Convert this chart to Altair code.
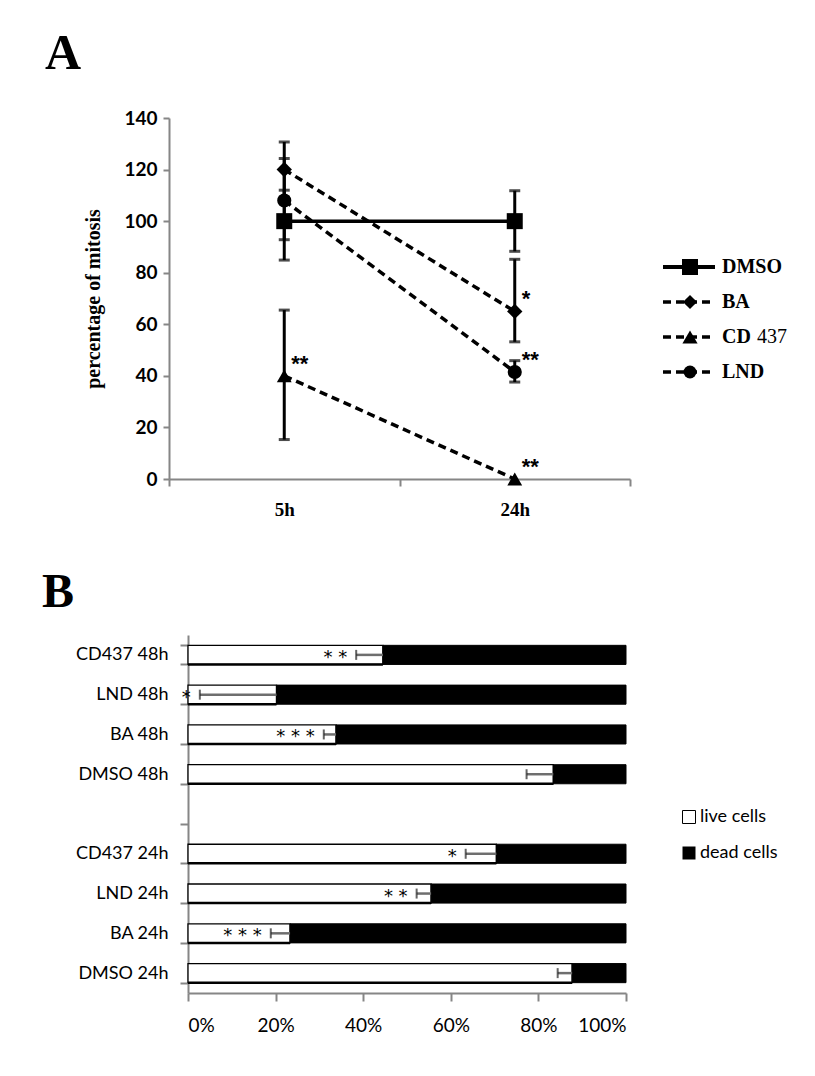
import altair as alt
import pandas as pd

# ---------------- Panel A data ----------------
times = ["5h", "24h"]
series = ["DMSO", "BA", "CD 437", "LND"]
dmso_val = [100, 100]
ba_val = [120, 65]
cd_val = [40, 0]
lnd_val = [108, 41.5]
dmso_lo = [84.9, 88.3]
dmso_hi = [112.0, 111.8]
ba_lo = [109.3, 53.2]
ba_hi = [130.7, 85.2]
cd_lo = [15.3, None]
cd_hi = [65.5, None]
lnd_lo = [92.8, 37.6]
lnd_hi = [124.3, 45.9]
stars_a_series = ["CD 437", "BA", "LND", "CD 437"]
stars_a_time = ["5h", "24h", "24h", "24h"]
stars_a_text = ["**", "*", "**", "**"]

# ---------------- Panel B data ----------------
cats_b = ["CD437 48h", "LND 48h", "BA 48h", "DMSO 48h", " ",
          "CD437 24h", "LND 24h", "BA 24h", "DMSO 24h"]
bar_cats = ["CD437 48h", "LND 48h", "BA 48h", "DMSO 48h",
            "CD437 24h", "LND 24h", "BA 24h", "DMSO 24h"]
live_pct = [44.5, 20.2, 33.8, 83.4, 70.4, 55.5, 23.3, 87.7]
live_err = [6.1, 17.5, 2.8, 6.1, 7.0, 3.3, 4.4, 3.3]
stars_b = ["* *", "*", "* * *", "", "*", "* *", "* * *", ""]

AX = "#868686"

vals = {"DMSO": dmso_val, "BA": ba_val, "CD 437": cd_val, "LND": lnd_val}
los = {"DMSO": dmso_lo, "BA": ba_lo, "CD 437": cd_lo, "LND": lnd_lo}
his = {"DMSO": dmso_hi, "BA": ba_hi, "CD 437": cd_hi, "LND": lnd_hi}
rows = []
for s in series:
    for i, t in enumerate(times):
        rows.append({"series": s, "time": t, "value": vals[s][i],
                     "lo": los[s][i], "hi": his[s][i]})
dfa = pd.DataFrame(rows)
dfe = dfa.dropna(subset=["lo"])
caps = pd.concat([dfe[["series", "time", "lo"]].rename(columns={"lo": "cap"}),
                  dfe[["series", "time", "hi"]].rename(columns={"hi": "cap"})])
dfs = pd.DataFrame({"series": stars_a_series, "time": stars_a_time, "text": stars_a_text})
dfs = dfs.merge(dfa[["series", "time", "value"]], on=["series", "time"])

xA = alt.X("time:N", sort=times, bandPosition=0.5,
           scale=alt.Scale(type="band", domain=times, paddingInner=0, paddingOuter=0),
           axis=alt.Axis(title=None, tickBand="extent", labelAngle=0, tickSize=7,
                         labelPadding=14, labelFont="Liberation Serif", labelFontWeight="bold",
                         labelFontSize=19, labelColor="black", domainColor=AX, tickColor=AX,
                         domainWidth=2, tickWidth=2))
yA = alt.Y("value:Q", scale=alt.Scale(domain=[0, 140], nice=False),
           axis=alt.Axis(title="percentage of mitosis", values=list(range(0, 141, 20)),
                         grid=False, tickSize=6, labelPadding=6, labelFont="Lato",
                         labelFontWeight="bold", labelFontSize=19, labelColor="black",
                         titleFont="Liberation Serif", titleFontWeight="bold",
                         titleFontSize=20, titleColor="black", titlePadding=20,
                         domainColor=AX, tickColor=AX, domainWidth=2, tickWidth=2))

dash_scale = alt.Scale(domain=series, range=[[1, 0], [8, 5], [8, 5], [8, 5]])
shape_scale = alt.Scale(domain=series, range=["square", "diamond", "triangle-up", "circle"])
size_scale = alt.Scale(domain=series, range=[256, 200, 230, 169])

lines = alt.Chart(dfa).mark_line(color="black", strokeWidth=3.5).encode(
    x=xA, y=yA,
    detail="series:N",
    strokeDash=alt.StrokeDash("series:N", scale=dash_scale, legend=None),
)
ebars = alt.Chart(dfe).mark_rule(color="black", strokeWidth=3).encode(
    x=alt.X("time:N", sort=times, bandPosition=0.5), y="lo:Q", y2="hi:Q")
ecaps = alt.Chart(caps).mark_tick(color="black", size=11, thickness=3).encode(
    x=alt.X("time:N", sort=times, bandPosition=0.5), y="cap:Q")
points = alt.Chart(dfa).mark_point(filled=True, color="black", opacity=1).encode(
    x=alt.X("time:N", sort=times, bandPosition=0.5), y="value:Q",
    shape=alt.Shape("series:N", scale=shape_scale, legend=None),
    size=alt.Size("series:N", scale=size_scale, legend=None),
)
starsA = alt.Chart(dfs).mark_text(align="left", baseline="middle", dx=7, dy=-12,
                                  font="Liberation Sans", fontWeight="bold",
                                  fontSize=22, color="black").encode(
    x=alt.X("time:N", sort=times, bandPosition=0.5), y="value:Q", text="text:N")

dummy = pd.DataFrame({"a": [0]})
leg_layers = []
leg_shapes = ["square", "diamond", "triangle-up", "circle"]
leg_sizes = [256, 200, 230, 169]
for i, s in enumerate(series):
    yy = 149 + 35 * i
    dash = [1, 0] if i == 0 else [8, 5]
    leg_layers.append(alt.Chart(dummy).mark_rule(color="black", strokeWidth=3.5 if i else 4,
                                                 strokeDash=dash).encode(
        x=alt.value(494), x2=alt.value(546), y=alt.value(yy)))
    leg_layers.append(alt.Chart(dummy).mark_point(filled=True, color="black", opacity=1,
                                                  shape=leg_shapes[i], size=leg_sizes[i]).encode(
        x=alt.value(521), y=alt.value(yy)))
    if s == "CD 437":
        leg_layers.append(alt.Chart(dummy).mark_text(text="CD", align="left", baseline="middle",
                          font="Liberation Serif", fontWeight="bold", fontSize=20,
                          color="black").encode(x=alt.value(553), y=alt.value(yy)))
        leg_layers.append(alt.Chart(dummy).mark_text(text="437", align="left", baseline="middle",
                          font="Liberation Serif", fontWeight="normal", fontSize=20,
                          color="black").encode(x=alt.value(588), y=alt.value(yy)))
    else:
        leg_layers.append(alt.Chart(dummy).mark_text(text=s, align="left", baseline="middle",
                          font="Liberation Serif", fontWeight="bold", fontSize=20,
                          color="black").encode(x=alt.value(553), y=alt.value(yy)))

labelA = alt.Chart(dummy).mark_text(text="A", align="left", baseline="alphabetic",
                                    font="Liberation Serif", fontWeight="bold", fontSize=50,
                                    color="black").encode(x=alt.value(-124), y=alt.value(-49))

chartA = alt.layer(lines, ebars, ecaps, points, starsA, labelA, *leg_layers).properties(
    width=461, height=361)

# ---------------- Panel B ----------------
# plot origin shared with panel A; panel B's axis starts 19px further right
SHIFT = 19
WB = 438
dfb = pd.DataFrame({"cat": bar_cats, "live": live_pct, "err": live_err, "stars": stars_b})
base = alt.Chart(dfb).transform_calculate(lo="datum.live - datum.err")
yB = alt.Y("cat:N", sort=cats_b,
           scale=alt.Scale(type="band", domain=cats_b, paddingInner=0.52, paddingOuter=0.26),
           axis=alt.Axis(title=None, tickBand="extent", tickSize=8, labelPadding=12,
                         offset=-SHIFT, labelFont="Lato", labelFontSize=18, labelColor="black",
                         domainColor=AX, tickColor=AX, domainWidth=2, tickWidth=2))
xB = alt.X("live:Q", scale=alt.Scale(domain=[0, 100], nice=False, range=[SHIFT, SHIFT + WB]),
           axis=alt.Axis(title=None, values=list(range(0, 101, 20)), grid=False,
                         labelExpr="datum.value + '%'", tickSize=8, labelPadding=15,
                         labelFont="Lato", labelFontSize=19, labelColor="black",
                         domainColor=AX, tickColor=AX, domainWidth=2, tickWidth=2))
yBs = alt.Y("cat:N", sort=cats_b)

live_bar = base.mark_bar(fill="white", stroke="black", strokeWidth=1.3).encode(
    x=xB, x2=alt.X2(datum=0), y=yB)
live_edge = base.mark_rule(color="black", strokeWidth=2.5).encode(
    x="live:Q", x2=alt.X2(datum=0), y=alt.Y("cat:N", sort=cats_b, bandPosition=1))
dead_bar = base.mark_bar(fill="black", stroke="black", strokeWidth=1).encode(
    x="live:Q", x2=alt.X2(datum=100), y=yBs)
err_rule = base.mark_rule(color="#6e6e6e", strokeWidth=2.5).encode(
    x="lo:Q", x2="live:Q", y=yBs)
err_cap = base.mark_tick(color="#222222", size=10, thickness=2).encode(
    x="lo:Q", y=yBs)
starsB = base.mark_text(align="right", baseline="middle", dx=-9, dy=3, font="DejaVu Sans",
                        fontSize=18, color="black").encode(
    x="lo:Q", y=yBs, text="stars:N")

legB = [
    alt.Chart(dummy).mark_point(shape="square", filled=True, fill="white", stroke="black",
                                strokeWidth=1, size=169, opacity=1).encode(
        x=alt.value(520), y=alt.value(182)),
    alt.Chart(dummy).mark_text(text="live cells", align="left", baseline="middle", font="Lato",
                               fontSize=18, color="black").encode(x=alt.value(531), y=alt.value(182)),
    alt.Chart(dummy).mark_point(shape="square", filled=True, color="black", size=169,
                                opacity=1).encode(x=alt.value(520), y=alt.value(218)),
    alt.Chart(dummy).mark_text(text="dead cells", align="left", baseline="middle", font="Lato",
                               fontSize=18, color="black").encode(x=alt.value(531), y=alt.value(218)),
]
labelB = alt.Chart(dummy).mark_text(text="B", align="left", baseline="alphabetic",
                                    font="Liberation Serif", fontWeight="bold", fontSize=48,
                                    color="black").encode(x=alt.value(-127), y=alt.value(-28))

chartB = alt.layer(live_bar, dead_bar, live_edge, err_rule, err_cap, starsB, labelB,
                   *legB).properties(width=SHIFT + WB, height=358)

chart = alt.concat(chartA, chartB, columns=1, spacing=50).properties(
    align="none", padding={"left": 34, "top": 21, "right": 5, "bottom": 5}
).configure(background="white").configure_view(stroke=None)

chart.save("out.html", embed_options={"renderer": "svg", "actions": False})
